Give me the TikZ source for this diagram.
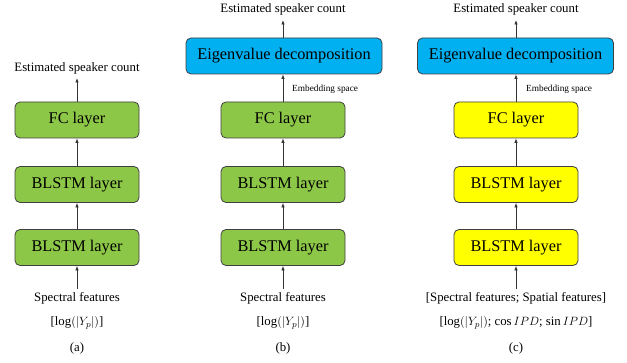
\documentclass[tikz,border=0pt]{standalone}
\usepackage{fontspec}
\setmainfont{Liberation Serif}
\usetikzlibrary{arrows.meta}
\definecolor{boxgreen}{RGB}{141,199,72}
\definecolor{boxblue}{RGB}{0,176,240}
\definecolor{boxyellow}{RGB}{255,255,0}
\begin{document}
\begin{tikzpicture}[x=1pt,y=-1pt,
  blk/.style={draw=black!75, line width=0.8pt, rounded corners=5pt, minimum width=124pt, minimum height=36pt, inner sep=0pt, font=\fontsize{16.3}{18}\selectfont},
  gbox/.style={blk, fill=boxgreen},
  ybox/.style={blk, fill=boxyellow},
  ebox/.style={blk, fill=boxblue, minimum width=196pt},
  lbl/.style={inner sep=0pt, font=\fontsize{12.8}{14}\selectfont},
  emb/.style={inner sep=0pt, anchor=west, font=\fontsize{9.3}{11}\selectfont},
  arr/.style={-{Latex[length=4.5pt,width=3.5pt]}, line width=0.7pt, draw=black!80}]
\useasboundingbox (0,0) rectangle (627,363);
% (a)
\node[gbox] (a1) at (77,120) {FC layer};
\node[gbox] (a2) at (77,184.5) {BLSTM layer};
\node[gbox] (a3) at (77,247.5) {BLSTM layer};
\node[lbl] (aout) at (77,68) {Estimated speaker count};
\node[lbl] (ain) at (77,298) {Spectral features};
\node[lbl] (aeq) at (77,323) {[$\log(\bigl|Y_p\bigr|)$]};
\node[lbl] (acap) at (77,348) {(a)};
\draw[arr, shorten <=3pt] (ain) -- (a3);
\draw[arr] (a3) -- (a2);
\draw[arr] (a2) -- (a1);
\draw[arr, shorten >=4pt] (a1) -- (aout);
% (b)
\node[ebox] (b0) at (284,56) {Eigenvalue decomposition};
\node[gbox] (b1) at (283,120) {FC layer};
\node[gbox] (b2) at (283,184.5) {BLSTM layer};
\node[gbox] (b3) at (283,247.5) {BLSTM layer};
\node[lbl] (bout) at (283,9) {Estimated speaker count};
\node[emb] (bemb) at (292,89) {Embedding space};
\node[lbl] (bin) at (283,298) {Spectral features};
\node[lbl] (beq) at (283,323) {[$\log(\bigl|Y_p\bigr|)$]};
\node[lbl] (bcap) at (283,348) {(b)};
\draw[arr, shorten <=3pt] (bin) -- (b3);
\draw[arr] (b3) -- (b2);
\draw[arr] (b2) -- (b1);
\draw[arr] (b1) -- (b1|-b0.south);
\draw[arr, shorten >=5pt] (b0.north-|bout) -- (bout);
% (c)
\node[ebox] (c0) at (515.5,56) {Eigenvalue decomposition};
\node[ybox] (c1) at (516,120) {FC layer};
\node[ybox] (c2) at (516,184.5) {BLSTM layer};
\node[ybox] (c3) at (516,247.5) {BLSTM layer};
\node[lbl] (cout) at (516,9) {Estimated speaker count};
\node[emb] (cemb) at (526,89) {Embedding space};
\node[lbl] (cin) at (516,298) {[Spectral features; Spatial features]};
\node[lbl] (ceq) at (516,323) {[$\log(\bigl|Y_p\bigr|)$; $\cos IPD$; $\sin IPD$]};
\node[lbl] (ccap) at (516,348) {(c)};
\draw[arr, shorten <=3pt] (cin) -- (c3);
\draw[arr] (c3) -- (c2);
\draw[arr] (c2) -- (c1);
\draw[arr] (c1) -- (c1|-c0.south);
\draw[arr, shorten >=5pt] (c0.north-|cout) -- (cout);
\end{tikzpicture}
\end{document}
